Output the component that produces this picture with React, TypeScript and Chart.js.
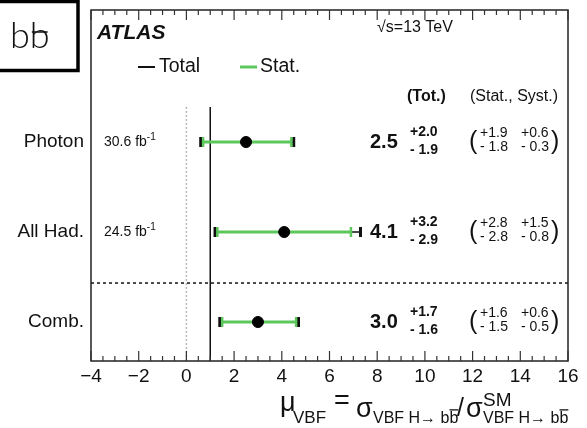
import React, { useEffect, useRef } from "react";
import { Chart, registerables } from "chart.js";

Chart.register(...registerables);

// Signal strength measurements per channel (VBF H -> bb)
const channels = ["Photon", "All Had.", "Comb."];
const lumiValues = ["30.6", "24.5", ""];
const muValues = [2.5, 4.1, 3.0];
const totUp = [2.0, 3.2, 1.7];
const totDown = [1.9, 2.9, 1.6];
const statUp = [1.9, 2.8, 1.6];
const statDown = [1.8, 2.8, 1.5];
const systUp = [0.6, 1.5, 0.6];
const systDown = [0.3, 0.8, 0.5];
const rowPositions = [3, 2, 1];
const xTickValues = [-4, -2, 0, 2, 4, 6, 8, 10, 12, 14, 16];
const smExpectation = 1;
const separatorRow = 1.433;
const refLineTop = 3.39;

const GREEN = "#5cc85c";
const FONT = "'Liberation Sans', Arial, Helvetica, sans-serif";

function txt(
  ctx: CanvasRenderingContext2D,
  s: string,
  x: number,
  y: number,
  font: string,
  align: CanvasTextAlign = "left",
  baseline: CanvasTextBaseline = "middle",
  color = "#111"
) {
  ctx.font = font;
  ctx.textAlign = align;
  ctx.textBaseline = baseline;
  ctx.fillStyle = color;
  ctx.fillText(s, x, y);
  return ctx.measureText(s).width;
}

function line(ctx: CanvasRenderingContext2D, x1: number, y1: number, x2: number, y2: number) {
  ctx.beginPath();
  ctx.moveTo(x1, y1);
  ctx.lineTo(x2, y2);
  ctx.stroke();
}

// Draws "VBF H→ bb̄" with the bar over the final b
function drawProcess(ctx: CanvasRenderingContext2D, x: number, y: number, size: number) {
  const font = `${size}px ${FONT}`;
  ctx.font = font;
  const head = "VBF H\u2192 b";
  const w = txt(ctx, head, x, y, font, "left", "alphabetic");
  const wb = txt(ctx, "b", x + w, y, font, "left", "alphabetic");
  ctx.strokeStyle = "#111";
  ctx.lineWidth = 1.3;
  line(ctx, x + w, y - size * 0.82, x + w + wb, y - size * 0.82);
  return w + wb;
}

const forestPlugin = {
  id: "forest",
  beforeDatasetsDraw(chart: any) {
    const { ctx, chartArea: a, scales } = chart;
    const x = scales.x;
    const y = scales.y;
    ctx.save();

    // zero line (dotted grey)
    const yTopRef = y.getPixelForValue(refLineTop);
    ctx.strokeStyle = "#b5b5b5";
    ctx.lineWidth = 1.5;
    ctx.setLineDash([2, 2]);
    line(ctx, x.getPixelForValue(0), yTopRef, x.getPixelForValue(0), a.bottom);

    // SM expectation
    ctx.setLineDash([]);
    ctx.strokeStyle = "#111";
    ctx.lineWidth = 1.5;
    line(ctx, x.getPixelForValue(smExpectation), yTopRef, x.getPixelForValue(smExpectation), a.bottom);

    // separator between channels and combination
    ctx.setLineDash([3, 3]);
    ctx.lineWidth = 1.5;
    const ys = y.getPixelForValue(separatorRow);
    line(ctx, a.left, ys, a.right, ys);
    ctx.setLineDash([]);

    // error bars
    rowPositions.forEach((r, i) => {
      const py = y.getPixelForValue(r);
      const tl = x.getPixelForValue(muValues[i] - totDown[i]);
      const tr = x.getPixelForValue(muValues[i] + totUp[i]);
      const sl = x.getPixelForValue(muValues[i] - statDown[i]);
      const sr = x.getPixelForValue(muValues[i] + statUp[i]);
      ctx.strokeStyle = "#111";
      ctx.lineWidth = 1.5;
      line(ctx, tl, py, tr, py);
      ctx.lineWidth = 3;
      line(ctx, tl, py - 5, tl, py + 5);
      line(ctx, tr, py - 5, tr, py + 5);
      ctx.strokeStyle = GREEN;
      ctx.lineWidth = 3;
      line(ctx, sl, py, sr, py);
      ctx.lineWidth = 2.5;
      line(ctx, sl, py - 5, sl, py + 5);
      line(ctx, sr, py - 5, sr, py + 5);
    });
    ctx.restore();
  },
  afterDraw(chart: any) {
    const { ctx, chartArea: a, scales } = chart;
    const x = scales.x;
    const y = scales.y;
    ctx.save();

    // frame
    ctx.strokeStyle = "#222";
    ctx.lineWidth = 1.5;
    ctx.strokeRect(a.left, a.top, a.right - a.left, a.bottom - a.top);

    // ticks (bottom and top)
    ctx.lineWidth = 1.2;
    ctx.strokeStyle = "#333";
    for (let v = x.min; v <= x.max + 1e-6; v += 0.5) {
      const px = x.getPixelForValue(v);
      const major = Math.abs(v % 2) < 1e-6;
      const len = major ? 10 : 5;
      line(ctx, px, a.bottom, px, a.bottom - len);
      line(ctx, px, a.top, px, a.top + len);
    }

    // tick labels
    xTickValues.forEach((v) => {
      const label = v < 0 ? "\u2212" + Math.abs(v) : String(v);
      txt(ctx, label, x.getPixelForValue(v), a.bottom + 16, `19px ${FONT}`, "center");
    });

    // channel labels and luminosities
    rowPositions.forEach((r, i) => {
      const py = y.getPixelForValue(r);
      txt(ctx, channels[i], a.left - 7, py, `19px ${FONT}`, "right");
      if (lumiValues[i]) {
        const w = txt(ctx, lumiValues[i] + " fb", a.left + 13, py, `14px ${FONT}`);
        txt(ctx, "-1", a.left + 13 + w, py - 5, `10px ${FONT}`);
      }
      // central value with total uncertainty
      txt(ctx, muValues[i].toFixed(1), 370, py, `bold 20px ${FONT}`);
      txt(ctx, "+" + totUp[i].toFixed(1), 410, py - 10, `bold 14px ${FONT}`);
      txt(ctx, "- " + totDown[i].toFixed(1), 410, py + 8, `bold 14px ${FONT}`);
      // stat and syst breakdown
      txt(ctx, "(", 469, py, `25px ${FONT}`);
      txt(ctx, "+" + statUp[i].toFixed(1), 480, py - 9, `14px ${FONT}`);
      txt(ctx, "- " + statDown[i].toFixed(1), 480, py + 5, `14px ${FONT}`);
      txt(ctx, "+" + systUp[i].toFixed(1), 521, py - 9, `14px ${FONT}`);
      txt(ctx, "- " + systDown[i].toFixed(1), 521, py + 5, `14px ${FONT}`);
      txt(ctx, ")", 551, py, `25px ${FONT}`);
    });

    // header texts
    txt(ctx, "ATLAS", 97, 33, `italic bold 21px ${FONT}`);
    txt(ctx, "\u221As=13 TeV", 377, 28, `16px ${FONT}`);
    txt(ctx, "(Tot.)", 407, 97, `bold 16px ${FONT}`);
    txt(ctx, "(Stat., Syst.)", 470, 97, `16px ${FONT}`);

    // legend
    ctx.strokeStyle = "#111";
    ctx.lineWidth = 2;
    line(ctx, 138, 67, 155, 67);
    txt(ctx, "Total", 159, 67, `19.5px ${FONT}`);
    ctx.strokeStyle = GREEN;
    ctx.lineWidth = 3;
    line(ctx, 240, 67, 257, 67);
    txt(ctx, "Stat.", 260, 67, `19.5px ${FONT}`);

    // axis title
    txt(ctx, "\u03BC", 280, 411, `27px ${FONT}`, "left", "alphabetic");
    txt(ctx, "VBF", 293, 423, `17px ${FONT}`, "left", "alphabetic");
    txt(ctx, "=", 334, 409, `27px ${FONT}`, "left", "alphabetic");
    txt(ctx, "\u03C3", 356, 417, `27px ${FONT}`, "left", "alphabetic");
    drawProcess(ctx, 373, 423, 16);
    txt(ctx, "/", 457, 416, `25px ${FONT}`, "left", "alphabetic");
    txt(ctx, "\u03C3", 466, 417, `27px ${FONT}`, "left", "alphabetic");
    txt(ctx, "SM", 483, 406, `19px ${FONT}`, "left", "alphabetic");
    drawProcess(ctx, 483, 423, 16);

    // process box
    ctx.strokeStyle = "#000";
    ctx.lineWidth = 3.5;
    ctx.strokeRect(-4, 1.5, 82, 69);
    const bFont = `300 36px Lato, 'Open Sans', sans-serif`;
    const bw = txt(ctx, "b", 10, 48, bFont, "left", "alphabetic");
    const bw2 = txt(ctx, "b", 10 + bw, 48, bFont, "left", "alphabetic");
    ctx.strokeStyle = "#111";
    ctx.lineWidth = 1.5;
    line(ctx, 10 + bw + 2, 32, 10 + bw + bw2 - 2, 32);

    ctx.restore();
  },
};

export default function App() {
  const ref = useRef<HTMLCanvasElement | null>(null);

  useEffect(() => {
    document.body.style.margin = "0";
    if (!ref.current) return;
    const chart = new Chart(ref.current, {
      type: "scatter",
      data: {
        datasets: [
          {
            data: muValues.map((v, i) => ({ x: v, y: rowPositions[i] })),
            backgroundColor: "#000",
            borderColor: "#000",
            pointRadius: 5.5,
            pointHoverRadius: 5.5,
          },
        ],
      },
      options: {
        responsive: false,
        animation: false,
        layout: { padding: { left: 91, right: 19, top: 10, bottom: 67 } },
        scales: {
          x: { type: "linear", min: -4, max: 16, display: false },
          y: { type: "linear", min: 0.5667, max: 4.4667, display: false },
        },
        plugins: { legend: { display: false }, tooltip: { enabled: false } },
      },
      plugins: [forestPlugin],
    });
    return () => chart.destroy();
  }, []);

  return (
    <div style={{ position: "absolute", left: 0, top: 0, width: 587, height: 428, background: "#fff" }}>
      <canvas ref={ref} width={587} height={428} />
    </div>
  );
}
